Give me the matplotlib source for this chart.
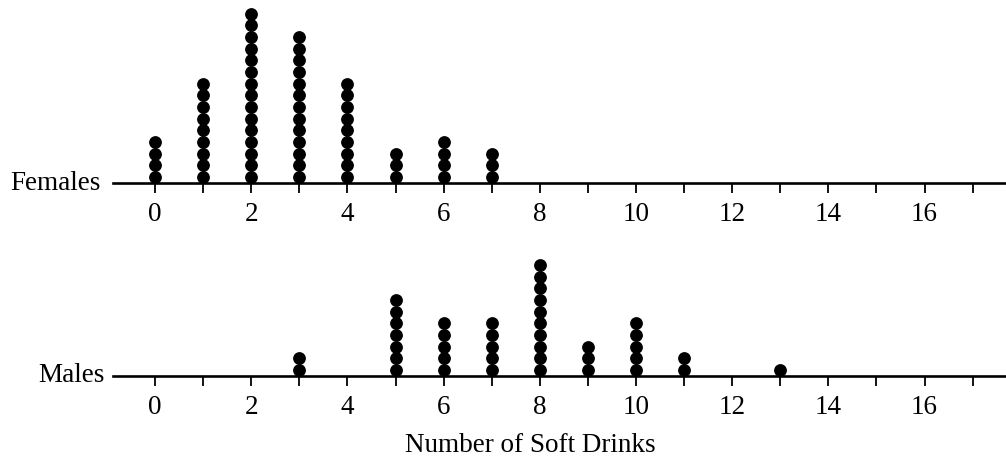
import matplotlib
matplotlib.use("Agg")
import matplotlib.pyplot as plt
from matplotlib.ticker import FixedLocator

# Data: number of soft drinks -> count of people
female_values = [0, 1, 2, 3, 4, 5, 6, 7]
female_counts = [4, 9, 15, 13, 9, 3, 4, 3]
male_values = [3, 5, 6, 7, 8, 9, 10, 11, 13]
male_counts = [2, 7, 5, 5, 10, 3, 5, 2, 1]
tick_labels = [0, 2, 4, 6, 8, 10, 12, 14, 16]
group_names = ["Females", "Males"]
x_title = "Number of Soft Drinks"

W, H = 1006, 465
fig = plt.figure(figsize=(W / 100, H / 100), dpi=100)
fig.patch.set_facecolor("white")
plt.rcParams["font.family"] = ["Liberation Serif", "DejaVu Serif"]

FS = 19.5
unit = 48.1            # px per data unit
x0_px = 155            # px of value 0
left_px = 113
spacing_px = 11.67     # dot spacing in px
xlim = (-(x0_px - left_px) / unit, (W - x0_px) / unit)

def make_axes(line_y_px, top_px, values, counts, name, label_baseline_px, label_right_px):
    bottom = 1 - line_y_px / H
    height = (line_y_px - top_px) / H
    ax = fig.add_axes([left_px / W, bottom, 1 - left_px / W, height])
    ax.set_xlim(*xlim)
    ax.set_ylim(0, (line_y_px - top_px) / spacing_px)
    for s in ["top", "left", "right"]:
        ax.spines[s].set_visible(False)
    ax.spines["bottom"].set_linewidth(1.9)
    ax.set_yticks([])
    ax.xaxis.set_major_locator(FixedLocator(tick_labels))
    ax.xaxis.set_minor_locator(FixedLocator([v for v in range(1, 18, 2)]))
    ax.set_xticklabels([str(t) for t in tick_labels], fontsize=FS)
    ax.tick_params(axis="x", which="both", direction="out", length=7, width=1.3, color="black")
    ax.tick_params(axis="x", which="major", pad=6.5)
    ax.patch.set_alpha(0)
    xs, ys = [], []
    for v, c in zip(values, counts):
        for i in range(c):
            xs.append(v)
            ys.append(0.5 + i)
    ax.plot(xs, ys, "o", color="black", markersize=8.2, clip_on=False, zorder=3)
    fig.text(label_right_px / W, 1 - label_baseline_px / H, name, ha="right", va="baseline",
             fontsize=FS)
    return ax

make_axes(183, 0, female_values, female_counts, group_names[0], 190, 101)
make_axes(376, 240, male_values, male_counts, group_names[1], 382, 105)

fig.text(530 / W, 1 - 452 / H, x_title, ha="center", va="baseline", fontsize=FS)

fig.savefig("out.png", dpi=100, facecolor="white")
